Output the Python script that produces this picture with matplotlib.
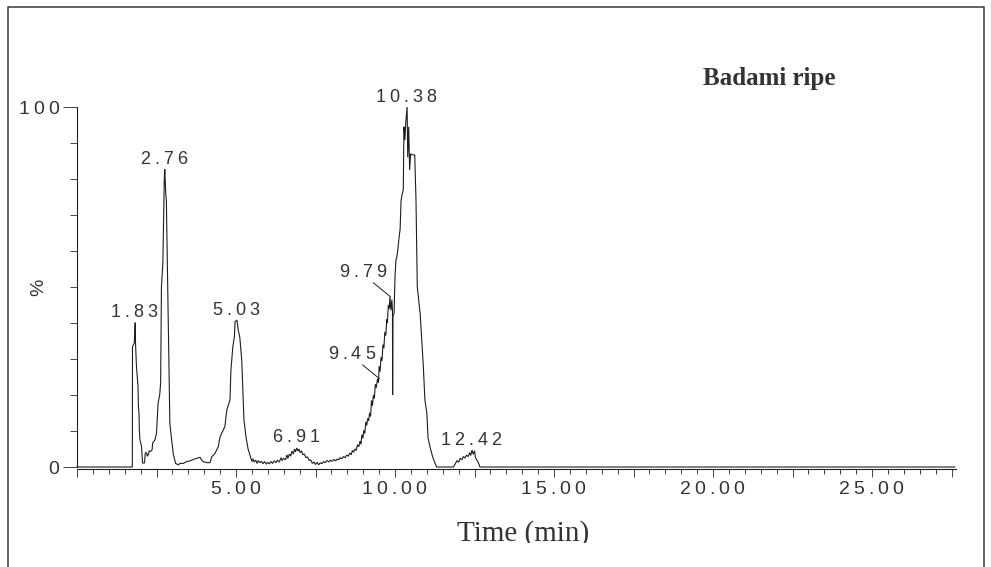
import matplotlib
matplotlib.use("Agg")
import matplotlib.pyplot as plt
from matplotlib.ticker import MultipleLocator, FixedLocator, NullFormatter
from matplotlib.transforms import offset_copy
from matplotlib.patches import Rectangle

# ---------------- data ----------------
time_min = [
    0.00, 1.74, 1.745, 1.80, 1.81, 1.83, 1.84, 1.87, 1.92, 1.93, 1.95, 1.96, 1.98, 2.01, 2.03,
    2.06, 2.12, 2.15, 2.19, 2.21, 2.24, 2.27, 2.30, 2.36, 2.38, 2.45, 2.50, 2.55, 2.60, 2.63,
    2.655, 2.70, 2.745, 2.76, 2.79, 2.81, 2.92, 2.97, 3.03, 3.10, 3.19, 3.24, 3.34, 3.45, 3.55,
    3.66, 3.76, 3.87, 3.92, 3.97, 4.08, 4.18, 4.24, 4.29, 4.34, 4.39, 4.44, 4.50, 4.55, 4.60,
    4.65, 4.71, 4.76, 4.81, 4.84, 4.90, 4.95, 4.97, 5.03, 5.07, 5.12, 5.18, 5.25, 5.32, 5.38,
    5.45, 5.50, 5.53, 5.57, 5.62, 5.66, 5.70, 5.75, 5.80, 5.85, 5.90, 5.95, 6.00, 6.05, 6.10,
    6.15, 6.20, 6.26, 6.30, 6.36, 6.42, 6.45, 6.50, 6.56, 6.60, 6.63, 6.68, 6.72, 6.76, 6.80,
    6.84, 6.87, 6.91, 6.95, 6.98, 7.02, 7.06, 7.10, 7.15, 7.20, 7.25, 7.30, 7.35, 7.40, 7.45,
    7.50, 7.55, 7.60, 7.65, 7.70, 7.75, 7.80, 7.86, 7.92, 7.97, 8.02, 8.08, 8.13, 8.18, 8.23,
    8.28, 8.33, 8.38, 8.43, 8.48, 8.53, 8.58, 8.62, 8.66, 8.70, 8.74, 8.78, 8.82, 8.86, 8.90,
    8.93, 8.96, 8.99, 9.02, 9.05, 9.08, 9.11, 9.14, 9.17, 9.20, 9.23, 9.26, 9.29, 9.32, 9.35,
    9.38, 9.41, 9.45, 9.48, 9.50, 9.53, 9.56, 9.59, 9.62, 9.65, 9.68, 9.71, 9.74, 9.76, 9.79,
    9.82, 9.84, 9.87, 9.90, 9.92, 9.925, 9.935, 9.97, 10.00, 10.03, 10.06, 10.09, 10.13, 10.16,
    10.19, 10.23, 10.26, 10.28, 10.31, 10.34, 10.38, 10.40, 10.43, 10.46, 10.49, 10.55, 10.62,
    10.66, 10.70, 10.79, 10.89, 10.94, 11.00, 11.04, 11.10, 11.18, 11.26, 11.31, 11.35, 11.84,
    11.90, 11.95, 12.00, 12.05, 12.10, 12.15, 12.20, 12.25, 12.30, 12.35, 12.38, 12.42, 12.46,
    12.50, 12.53, 12.57, 12.62, 12.67, 27.60,
]
intensity = [
    0.0, 0.0, 33.4, 34.4, 36.0, 40.1, 34.4, 27.9, 22.3, 17.0, 15.0, 10.3, 7.5, 6.5, 5.6,
    1.1, 1.1, 4.0, 3.9, 3.0, 3.3, 4.5, 4.3, 4.7, 6.7, 7.5, 9.4, 17.8, 20.0, 23.3,
    50.0, 56.7, 80.0, 82.7, 76.0, 74.0, 12.0, 8.0, 3.5, 1.0, 0.6, 1.0, 1.0, 1.5, 1.7,
    2.1, 2.4, 2.7, 1.9, 1.5, 1.2, 1.2, 2.9, 3.3, 3.8, 4.7, 5.6, 8.4, 9.4, 10.3,
    11.2, 15.8, 17.2, 18.6, 26.9, 33.4, 36.2, 40.4, 40.8, 38.0, 36.0, 29.7, 13.0, 8.0, 5.0,
    3.0, 1.5, 2.3, 1.4, 1.9, 1.0, 1.8, 1.2, 1.6, 0.9, 1.5, 0.8, 1.3, 0.9, 1.5,
    1.0, 1.7, 1.2, 1.9, 1.4, 2.6, 1.8, 2.4, 2.0, 3.4, 2.4, 3.6, 3.0, 4.4, 3.6,
    5.0, 4.2, 5.3, 4.4, 5.0, 4.0, 4.5, 3.4, 3.6, 2.6, 2.8, 1.8, 2.0, 1.0, 1.4,
    0.7, 1.3, 0.6, 1.2, 0.9, 1.5, 1.2, 1.8, 1.4, 1.9, 1.6, 2.1, 1.7, 2.2, 2.0,
    2.6, 2.3, 2.9, 2.6, 3.3, 3.0, 3.9, 3.4, 4.6, 4.1, 5.0, 4.6, 6.2, 5.6, 7.2,
    6.3, 9.0, 8.0, 10.2, 9.3, 12.5, 11.5, 13.5, 12.8, 15.0, 14.0, 18.5, 17.0, 20.0, 19.0,
    23.0, 22.0, 24.5, 23.5, 28.0, 26.5, 30.5, 29.5, 34.0, 33.0, 37.5, 36.5, 41.0, 40.0, 45.0,
    44.0, 47.3, 43.5, 46.5, 43.5, 20.0, 42.0, 42.7, 53.0, 57.5, 58.5, 60.5, 64.0, 66.0,
    74.0, 76.0, 77.0, 94.5, 90.8, 96.0, 100.0, 86.0, 94.5, 82.5, 87.0, 86.7, 86.7,
    74.0, 50.0, 42.7, 28.0, 18.6, 15.0, 8.0, 5.6, 2.9, 1.0, 0.0, 0.0, 0.0,
    1.0, 1.8, 1.3, 2.4, 2.0, 2.9, 2.5, 3.3, 2.9, 4.0, 3.2, 4.7, 3.5,
    4.5, 2.6, 2.0, 1.2, 0.0, 0.0,
]

peak_labels = ["1.83", "2.76", "5.03", "6.91", "9.45", "9.79", "10.38", "12.42"]
peak_times = [1.83, 2.76, 5.03, 6.91, 9.45, 9.79, 10.38, 12.42]
peak_heights = [40.1, 82.7, 40.8, 5.3, 24.5, 47.3, 100.0, 4.7]
leader_peaks = ["9.45", "9.79"]

x_tick_values = [5, 10, 15, 20, 25]
x_tick_labels = ["5.00", "10.00", "15.00", "20.00", "25.00"]
y_tick_values = [0, 100]
y_tick_labels = ["0", "100"]
y_axis_label = "%"
title_text = "Badami ripe"
x_axis_label = "Time (min)"

# ---------------- style ----------------
DPI = 100
W, H = 991, 567
TXT = "#333333"
LINE = "#1e1e1e"
SANS = "Liberation Sans"
SERIF = "Liberation Serif"
ADV = {".": 0.278, "%": 0.889}

fig = plt.figure(figsize=(W / DPI, H / DPI), dpi=DPI)
fig.patch.set_facecolor("white")

x0, x1 = 77, 956
y0, y100 = 467, 107
ax = fig.add_axes([x0 / W, (H - y0) / H, (x1 - x0) / W, (y0 - y100) / H])
ax.set_xlim(0, 27.64)
ax.set_ylim(0, 100)
ax.patch.set_visible(False)

ax.plot(time_min, intensity, color=LINE, lw=0.8, clip_on=False, solid_joinstyle="miter")

for s in ("top", "right"):
    ax.spines[s].set_visible(False)
ax.spines["left"].set_color(LINE)
ax.spines["left"].set_linewidth(0.8)
ax.spines["bottom"].set_color(LINE)
ax.spines["bottom"].set_linewidth(0.8)
ax.spines["bottom"].set_position(("outward", 1.6))

ax.xaxis.set_major_locator(MultipleLocator(2.5))
ax.xaxis.set_minor_locator(MultipleLocator(0.5))
ax.xaxis.set_major_formatter(NullFormatter())
ax.tick_params(axis="x", which="major", direction="out", length=5.5, width=0.7, color="#444444")
ax.tick_params(axis="x", which="minor", direction="out", length=3.5, width=0.7, color="#444444")

ax.yaxis.set_major_locator(FixedLocator(y_tick_values))
ax.yaxis.set_minor_locator(FixedLocator([v for v in range(10, 100, 10)]))
ax.yaxis.set_major_formatter(NullFormatter())
ax.tick_params(axis="y", which="major", direction="out", length=10, width=0.7, color="#444444")
ax.tick_params(axis="y", which="minor", direction="out", length=5, width=0.7, color="#444444")


def spaced_text(x, y, s, size, dx=0.0, dy=0.0, align="center", spacing=4.0, transform=None):
    """Draw digits with extra letter spacing (as in the original software output)."""
    em = size * DPI / 72.0
    advs = [ADV.get(c, 0.556) * em for c in s]
    total = sum(advs) + spacing * (len(s) - 1)
    if align == "center":
        pos = -total / 2.0
    elif align == "right":
        pos = -total
    else:
        pos = 0.0
    base = transform if transform is not None else ax.transData
    for c, a in zip(s, advs):
        tr = offset_copy(base, fig=fig, x=dx + pos + a / 2.0, y=dy, units="dots")
        ax.text(x, y, c, transform=tr, ha="center", va="baseline", fontsize=size,
                family=SANS, color=TXT, clip_on=False)
        pos += a + spacing


# x tick labels
for v, lab in zip(x_tick_values, x_tick_labels):
    spaced_text(v, 0, lab, 14, dx=-1, dy=-27.5, transform=ax.get_xaxis_transform())

# y tick labels
for v, lab in zip(y_tick_values, y_tick_labels):
    spaced_text(0, v, lab, 14, dx=-18, dy=-7, align="right", transform=ax.get_yaxis_transform())

# y axis label "%"
ax.text(0, 50, y_axis_label, transform=offset_copy(ax.get_yaxis_transform(), fig=fig, x=-38, y=0, units="dots"),
        rotation=90, ha="center", va="center", fontsize=14, family=SANS, color=TXT)

# peak labels
for lab, t, h in zip(peak_labels, peak_times, peak_heights):
    if lab in leader_peaks:
        spaced_text(t, h, lab, 13, dx=-26, dy=19.5)
        p_start = offset_copy(ax.transData, fig=fig, x=-15, y=14, units="dots")
        ax.annotate("", xy=(t, h), xycoords=offset_copy(ax.transData, fig=fig, x=2, y=0, units="dots"),
                    xytext=(t, h), textcoords=p_start,
                    arrowprops=dict(arrowstyle="-", color=LINE, lw=0.7, shrinkA=0, shrinkB=0))
    else:
        spaced_text(t, h, lab, 13, dx=-1, dy=5.5)

# title and x label
fig.text(769 / W, (H - 85) / H, title_text, ha="center", va="baseline", fontsize=18,
         fontweight="bold", family=SERIF, color=TXT)
xl = fig.text(523 / W, (H - 541) / H, x_axis_label, ha="center", va="baseline", fontsize=21,
              family=SERIF, color=TXT)
# the original picture cuts the axis title just below its baseline
clip_rect = Rectangle((0, (H - 543) / H), 1, 1, transform=fig.transFigure)
xl.set_clip_path(clip_rect)
xl.set_clip_on(True)

# outer frame of the original figure
fig.patches.append(Rectangle((8 / W, -0.1), (984 - 8) / W, 0.1 + (H - 7) / H,
                             transform=fig.transFigure, fill=False, edgecolor="#3a3a3a",
                             lw=1.1, figure=fig))

fig.savefig("out.png", dpi=DPI, facecolor="white")
